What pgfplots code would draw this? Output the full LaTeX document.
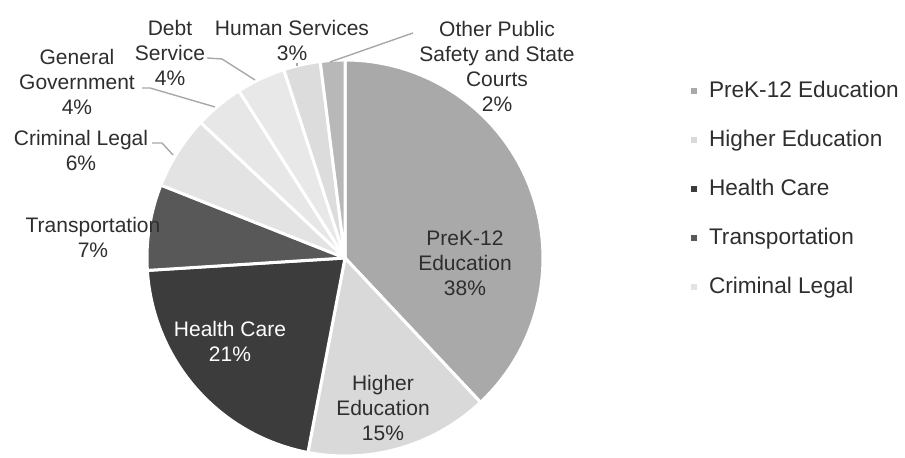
\documentclass[border=0pt]{standalone}
\usepackage{pgfplots}
\pgfplotsset{compat=1.18}
\usepackage{fontspec}
\setmainfont{Liberation Sans}

\definecolor{cPreK}{HTML}{A9A9A9}
\definecolor{cHigher}{HTML}{D9D9D9}
\definecolor{cHealth}{HTML}{3C3C3C}
\definecolor{cTrans}{HTML}{585858}
\definecolor{cCrim}{HTML}{E3E3E3}
\definecolor{cGen}{HTML}{E7E7E7}
\definecolor{cDebt}{HTML}{E8E8E8}
\definecolor{cHuman}{HTML}{DCDCDC}
\definecolor{cOther}{HTML}{B8B8B8}
\definecolor{txt}{HTML}{2E2E2E}
\definecolor{lead}{HTML}{A8A8A8}

\tikzset{lbl/.style={font=\fontsize{10.5}{12.5}\selectfont, text=txt, align=center, inner sep=0pt}}

% Shares (%): PreK-12 38, Higher Ed 15, Health Care 21, Transportation 7,
% Criminal Legal 6, General Government 4, Debt Service 4, Human Services 3, Other 2
% wedge angles: 90 - 3.6 * cumulative share
\newcommand{\wedgeplot}[3]{%
  \addplot[forget plot, fill=#3, draw=white, line width=1.5pt, line join=round,
    domain=#1:#2, samples=61, variable=\t]
    ({345+198*cos(\t)},{200+198*sin(\t)}) -- (axis cs:345,200) -- cycle;}

\begin{document}
\begin{tikzpicture}
\useasboundingbox (0,0) rectangle (452.5pt,229pt);
\begin{axis}[
  hide axis, scale only axis, clip=false,
  width=452.5pt, height=229pt,
  xmin=0, xmax=905, ymin=0, ymax=458,
  legend style={at={(axis cs:685,384)}, anchor=north west, draw=none, fill=none,
    font=\fontsize{11.3}{13.5}\selectfont, text=txt, row sep=11.8pt,
    nodes={inner sep=1.5pt},
    /tikz/every odd column/.append style={column sep=4.5pt}},
  legend cell align=left,
  legend image code/.code={\fill[#1, draw=none] (0pt,-1.4pt) rectangle (2.8pt,1.4pt);},
]
\wedgeplot{-46.8}{90}{cPreK}
\wedgeplot{-100.8}{-46.8}{cHigher}
\wedgeplot{-176.4}{-100.8}{cHealth}
\wedgeplot{-201.6}{-176.4}{cTrans}
\wedgeplot{-223.2}{-201.6}{cCrim}
\wedgeplot{-237.6}{-223.2}{cGen}
\wedgeplot{-252}{-237.6}{cDebt}
\wedgeplot{-262.8}{-252}{cHuman}
\wedgeplot{-270}{-262.8}{cOther}

% leader lines
\addplot[forget plot, draw=lead, line width=0.7pt, no marks] coordinates {(152,315) (162,315) (173,303)};
\addplot[forget plot, draw=lead, line width=0.7pt, no marks] coordinates {(142,370) (150,370) (215,351)};
\addplot[forget plot, draw=lead, line width=0.7pt, no marks] coordinates {(207,400) (222,399) (255,378)};
\addplot[forget plot, draw=lead, line width=0.7pt, no marks] coordinates {(297,395) (297,392)};
\addplot[forget plot, draw=lead, line width=0.7pt, no marks] coordinates {(413,425) (330,396)};

% labels
\node[lbl] at (axis cs:465,194.5) {PreK-12\\Education\\38\%};
\node[lbl] at (axis cs:383,50) {Higher\\Education\\15\%};
\node[lbl, text=white] at (axis cs:230,117) {Health Care\\21\%};
\node[lbl] at (axis cs:93,220.5) {Transportation\\7\%};
\node[lbl] at (axis cs:81,307.5) {Criminal Legal\\6\%};
\node[lbl] at (axis cs:77,376) {General\\Government\\4\%};
\node[lbl] at (axis cs:170,405) {Debt\\Service\\4\%};
\node[lbl] at (axis cs:292,417.5) {Human Services\\3\%};
\node[lbl] at (axis cs:497,391.5) {Other Public\\Safety and State\\Courts\\2\%};

\addlegendimage{fill=cPreK}\addlegendentry{PreK-12 Education}
\addlegendimage{fill=cHigher}\addlegendentry{Higher Education}
\addlegendimage{fill=cHealth}\addlegendentry{Health Care}
\addlegendimage{fill=cTrans}\addlegendentry{Transportation}
\addlegendimage{fill=cCrim}\addlegendentry{Criminal Legal}
\end{axis}
\end{tikzpicture}
\end{document}
